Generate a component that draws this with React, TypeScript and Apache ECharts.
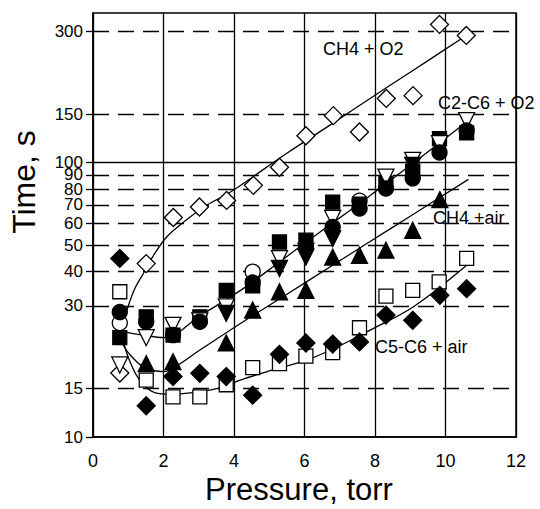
import React, { useEffect, useRef } from 'react';
import * as echarts from 'echarts';

// ---------- data ----------
const xTickValues = [0, 2, 4, 6, 8, 10, 12];
const yTickValues = [10, 15, 30, 40, 50, 60, 70, 80, 90, 100, 150, 300];
const ySolidLines = [100];
const yDashedLines = [15, 30, 40, 50, 60, 70, 80, 90, 150, 300];

// CH4 + O2 (open diamonds)
const ch4O2Points = [[0.76, 17.1], [1.51, 42.8], [2.28, 63], [3.02, 68.8], [3.79, 72.7], [4.55, 82.5], [5.29, 96], [6.04, 125], [6.82, 148], [7.56, 129], [8.32, 171], [9.08, 175], [9.83, 318], [10.59, 290]];
const ch4O2Fit = [[0.82, 24], [0.9, 27], [1.0, 30], [1.2, 35], [1.43, 39.4], [1.7, 45.5], [2.09, 53.5], [2.6, 61], [3.2, 69.5], [3.9, 78], [5.5, 108], [6.81, 139], [7.86, 171], [9.0, 213], [10.59, 290]];

// C2-C6 + O2 (several symbols)
const c26Squares = [[0.76, 23.0], [1.51, 27.4], [2.27, 23.5], [3.03, 27.4], [3.78, 34.2], [4.53, 35.5], [5.29, 51.3], [6.04, 52.1], [6.8, 71.7], [7.56, 70.5], [8.31, 84], [9.07, 93], [9.83, 122], [10.6, 128]];
const c26Circles = [[0.76, 28.5], [1.51, 26.3], [2.27, 23.5], [3.03, 26.3], [4.53, 36.5], [6.04, 49.2], [6.8, 58.2], [7.56, 68], [8.31, 80.3], [9.07, 87.5], [9.83, 108.7], [10.6, 130.6]];
const c26OpenCircles = [[0.76, 26], [4.53, 40], [7.56, 72.5]];
const c26OpenDownTri = [[0.76, 18.3], [1.51, 23.0], [2.27, 25.5], [3.03, 26.5], [3.78, 29.8], [5.29, 44.6], [6.04, 47.5], [6.8, 62.5], [8.31, 88.4], [9.07, 101.7], [9.83, 117], [10.6, 142]];
const c26FilledDownTri = [[3.78, 28.2], [5.29, 41.1], [6.04, 45.2], [6.8, 52.8], [9.07, 97.5]];
const c26Fit = [[0.78, 24.3], [1.4, 23.5], [2.03, 23.0], [3.03, 27.6], [4.26, 34.7], [5.3, 43.5], [6.5, 56.5], [7.57, 71], [9.07, 99], [10.65, 142]];

// CH4 + air (filled up triangles)
const ch4AirPoints = [[1.51, 18.5], [2.27, 18.8], [3.78, 22.0], [4.53, 29.0], [5.29, 33.8], [6.04, 34.2], [6.8, 45.2], [7.56, 45.9], [8.31, 47.9], [9.07, 56.6], [9.84, 73.2]];
const ch4AirFit = [[0.78, 22.5], [1.0, 20.3], [1.43, 18.0], [2.0, 17.3], [2.5, 18.6], [3.0, 20.6], [4.26, 26.3], [5.5, 33.1], [6.72, 41.6], [7.86, 51.5], [9.0, 63.7], [10.65, 86.7]];

// C5-C6 + air (filled diamonds, open squares)
const c56Diamonds = [[0.76, 44.7], [1.51, 13.0], [2.27, 16.6], [3.03, 17.05], [3.78, 16.6], [4.53, 14.2], [5.29, 20.0], [6.04, 22.0], [6.8, 21.8], [7.56, 22.2], [8.31, 27.8], [9.07, 26.6], [9.84, 32.8], [10.6, 34.7]];
const c56Squares = [[0.76, 33.8], [1.51, 16.1], [2.27, 14.0], [3.03, 14.0], [3.78, 15.5], [4.53, 17.9], [5.29, 18.5], [6.04, 19.7], [6.8, 20.3], [7.56, 25.0], [8.31, 32.6], [9.07, 34.2], [9.82, 36.7], [10.6, 44.7]];
const c56Fit = [[0.85, 22.5], [1.0, 19.5], [1.23, 16.8], [1.5, 15.2], [1.75, 14.5], [2.2, 14.3], [3.0, 14.6], [3.69, 15.2], [4.17, 16.1], [5.0, 17.4], [6.06, 19.05], [7.0, 21.5], [7.86, 24.5], [9.09, 29.8], [10.6, 42.2]];

const seriesLabels = [
  { text: 'CH4 + O2', x: 323, y: 49 },
  { text: 'C2-C6 + O2', x: 438, y: 103 },
  { text: 'CH4 +air', x: 433, y: 218 },
  { text: 'C5-C6 + air', x: 375, y: 347 },
];

const FONT = '"Liberation Sans", Arial, Helvetica, sans-serif';
const Y_MIN = 10;
const Y_MAX = 350;

export default function App() {
  const ref = useRef<HTMLDivElement>(null);

  useEffect(() => {
    if (!ref.current) return;
    const chart = echarts.init(ref.current, null, { renderer: 'svg' });

    const fitLine = (data: number[][], extra: any = {}) => ({
      type: 'line',
      data,
      smooth: 0.35,
      symbol: 'none',
      showSymbol: false,
      lineStyle: { color: '#000', width: 1.3 },
      z: 2,
      silent: true,
      ...extra,
    });

    const scatter = (data: number[][], symbol: string, size: number, filled: boolean, rotate = 0) => ({
      type: 'scatter',
      data,
      symbol,
      symbolSize: size,
      symbolRotate: rotate,
      itemStyle: {
        color: filled ? '#000' : '#fff',
        borderColor: '#000',
        borderWidth: 1.3,
        opacity: 1,
      },
      z: 3,
      silent: true,
    });

    const gridMarkLines = [
      ...ySolidLines.map((v) => ({ yAxis: v, lineStyle: { type: 'solid', color: '#000', width: 1.3 } })),
      ...yDashedLines.map((v) => ({ yAxis: v, lineStyle: { type: [16, 9], color: '#000', width: 1.3 } })),
    ];

    chart.setOption({
      animation: false,
      backgroundColor: '#fff',
      grid: {
        left: 93,
        right: 24,
        top: 13,
        bottom: 72,
        show: true,
        borderColor: '#000',
        borderWidth: 1.5,
        backgroundColor: 'transparent',
      },
      xAxis: {
        type: 'value',
        min: 0,
        max: 12,
        interval: 2,
        axisLine: { show: true, lineStyle: { color: '#000', width: 1.5 } },
        axisTick: { show: false },
        axisLabel: {
          color: '#000',
          fontSize: 18,
          fontFamily: FONT,
          margin: 15,
          customValues: xTickValues,
        },
        splitLine: { show: true, lineStyle: { color: '#000', width: 1.3, type: 'solid' } },
      },
      yAxis: [
        {
          type: 'log',
          logBase: 10,
          min: Y_MIN,
          max: Y_MAX,
          axisLine: { show: true, lineStyle: { color: '#000', width: 1.5 } },
          axisTick: { show: false },
          axisLabel: { show: false },
          splitLine: { show: false },
        },
        {
          type: 'value',
          position: 'left',
          min: Math.log10(Y_MIN),
          max: Math.log10(Y_MAX),
          axisLine: { show: false },
          axisTick: {
            show: true,
            inside: false,
            length: 7,
            customValues: yTickValues.map((v) => Math.log10(v)),
            lineStyle: { color: '#000', width: 1.3 },
          },
          axisLabel: {
            show: true,
            color: '#000',
            fontSize: 17,
            lineHeight: 13,
            fontFamily: FONT,
            margin: 10,
            customValues: yTickValues.map((v) => Math.log10(v)),
            formatter: (v: number) => String(Math.round(Math.pow(10, v))),
          },
          splitLine: { show: false },
        },
      ],
      graphic: [
        ...seriesLabels.map((l) => ({
          type: 'text',
          x: l.x,
          y: l.y,
          z: 10,
          style: {
            text: l.text,
            fill: '#000',
            font: `18px ${FONT}`,
            textAlign: 'left',
            textVerticalAlign: 'middle',
          },
        })),
        {
          type: 'text',
          x: 299,
          y: 489,
          style: {
            text: 'Pressure, torr',
            fill: '#000',
            font: `31px ${FONT}`,
            textAlign: 'center',
            textVerticalAlign: 'middle',
          },
        },
        {
          type: 'text',
          x: 24,
          y: 182,
          rotation: Math.PI / 2,
          style: {
            text: 'Time, s',
            fill: '#000',
            font: `32px ${FONT}`,
            textAlign: 'center',
            textVerticalAlign: 'middle',
          },
        },
      ],
      series: [
        fitLine(ch4O2Fit, {
          markLine: {
            silent: true,
            symbol: ['none', 'none'],
            z: 1,
            label: { show: false },
            data: gridMarkLines,
          },
        }),
        fitLine(c26Fit),
        fitLine(ch4AirFit),
        fitLine(c56Fit),
        scatter(ch4O2Points, 'diamond', 18, false),
        scatter(c56Squares, 'rect', 14, false),
        scatter(c56Diamonds, 'diamond', 18, true),
        scatter(ch4AirPoints, 'triangle', 16, true),
        scatter(c26OpenCircles, 'circle', 15, false),
        scatter(c26Squares, 'rect', 14, true),
        scatter(c26OpenDownTri, 'triangle', 16, false, 180),
        scatter(c26Circles, 'circle', 15, true),
        scatter(c26FilledDownTri, 'triangle', 16, true, 180),
      ],
    });

    return () => chart.dispose();
  }, []);

  return (
    <div
      ref={ref}
      style={{ position: 'fixed', left: 0, top: 0, width: 540, height: 509, background: '#fff' }}
    />
  );
}
